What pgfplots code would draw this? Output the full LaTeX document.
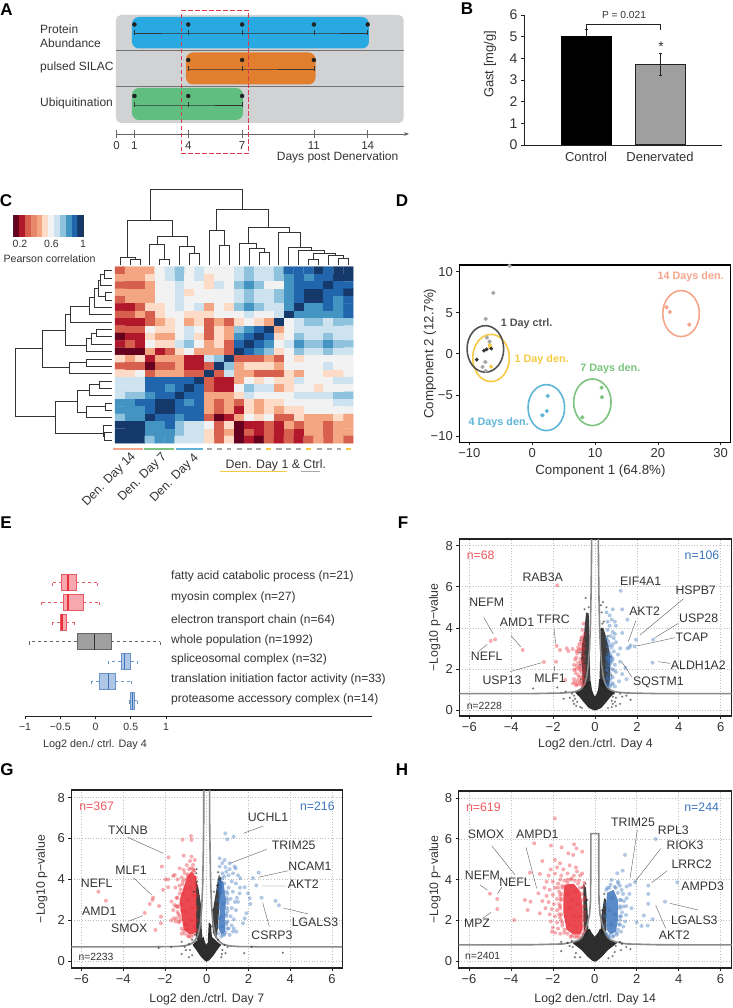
\documentclass[border=0pt]{standalone}
\usepackage{fontspec}
\setmainfont{Liberation Sans}
\usepackage{pgfplots}
\pgfplotsset{compat=1.18}
\usepgfplotslibrary{statistics}
\usetikzlibrary{arrows.meta}

\newcommand\fs[1]{\fontsize{#1}{#1}\selectfont}

\definecolor{tx}{HTML}{333333}
\definecolor{panelgray}{HTML}{D1D2D4}
\definecolor{abBlue}{HTML}{29A9E1}
\definecolor{abOrange}{HTML}{E27F2E}
\definecolor{abGreen}{HTML}{60BE80}
\definecolor{boxRed}{HTML}{E13A4C}
\definecolor{stripSalmon}{HTML}{F4A58A}
\definecolor{stripGreen}{HTML}{7CC47F}
\definecolor{stripBlue}{HTML}{5FB5D8}
\definecolor{stripYellow}{HTML}{F6C945}
\definecolor{stripGray}{HTML}{A8A8A8}
\definecolor{vr}{HTML}{E8303A}
\definecolor{vb}{HTML}{3D75BD}
\definecolor{vk}{HTML}{222222}
\definecolor{thrc}{HTML}{8A8A8A}
\definecolor{rdD}{HTML}{E85A66}
\definecolor{rdL}{HTML}{F7A8AE}
\definecolor{blD}{HTML}{6A93CC}
\definecolor{blL}{HTML}{AFC6E5}

\pgfplotsset{
  colormap={rdbu}{rgb255=(103,0,31) rgb255=(178,24,43) rgb255=(214,96,77) rgb255=(232,136,106)
    rgb255=(244,165,130) rgb255=(253,219,199) rgb255=(242,242,242) rgb255=(205,228,240)
    rgb255=(143,195,221) rgb255=(67,147,195) rgb255=(33,102,172) rgb255=(21,57,107)},
  hidden/.style={scale only axis, anchor=south west, hide axis, clip=false, unbounded coords=jump},
  rd/.style={only marks, mark=*, mark size=2pt, mark options={draw opacity=0, fill=vr, fill opacity=.4}},
  bl/.style={only marks, mark=*, mark size=2pt, mark options={draw opacity=0, fill=vb, fill opacity=.4}},
  bk/.style={only marks, mark=*, mark size=1.2pt, mark options={draw opacity=0, fill=vk, fill opacity=.6}},
  vol/.style={scale only axis, anchor=south west,
    xtick={-6,-4,-2,0,2,4,6}, xticklabels={−6,−4,−2,0,2,4,6},
    ytick={0,2,4,6,8}, yticklabels={0,2,4,6,8},
    xtick pos=lower, ytick pos=left, tick align=outside, major tick length=3pt,
    grid=major, grid style={dash pattern=on .7pt off 2pt, color=gray!50, line width=.5pt},
    axis line style={line width=1.1pt, color=vk}, tick style={color=vk, line width=.6pt, solid},
    tick label style={font=\fs{13}, text=tx},
    xlabel style={font=\fs{12.3}, text=tx, at={(axis description cs:.5,-.158)}, anchor=center},
    ylabel style={font=\fs{12.3}, text=tx, at={(axis description cs:-.09,.5)}, anchor=center},
    ylabel={−Log10 p−value}},
  thr/.style={color=thrc, line width=1.6pt, no marks},
  bx/.style n args={3}{boxplot/every box/.style={draw=#1, fill=#2, line width=.6pt},
    boxplot/every whisker/.style={draw=#1, dash pattern=on 3pt off 3pt, line width=.6pt},
    boxplot/every median/.style={draw=#3, line width=1.4pt},
    boxplot/whisker extend=.3},
}

\begin{document}
\begin{tikzpicture}
\path[use as bounding box] (0pt,0pt) rectangle (732pt,-1008pt);

% A: sampling design, x in days, y in px from the top
\begin{axis}[scale only axis, anchor=south west, at={(116.5pt,-134pt)}, width=292.5pt, height=129pt,
  xmin=0, xmax=16.3, ymin=-134, ymax=-5, clip=false,
  axis x line=bottom, axis y line=none, axis line style={-{Stealth[length=5pt]}, color=gray!80!black, line width=.7pt},
  xtick={0,1,4,7,11,14}, xticklabels={0,1,4,7,11,14}, tick align=center, major tick length=8pt,
  tick style={color=gray!80!black, line width=.7pt},
  tick label style={font=\fs{11.5}, text=tx}]
\addplot[fill=panelgray, draw=none, rounded corners=5pt] coordinates {(-.03,-15)(16,-15)(16,-123)(-.03,-123)} -- cycle;
\addplot[color=gray!90!black, line width=.7pt] coordinates {(-.03,-50.5)(16,-50.5)};
\addplot[color=gray!90!black, line width=.7pt] coordinates {(-.03,-86.5)(16,-86.5)};
\addplot[fill=abBlue, draw=none, rounded corners=7pt] coordinates {(.86,-17)(14.07,-17)(14.07,-48.5)(.86,-48.5)} -- cycle;
\addplot[fill=abOrange, draw=none, rounded corners=7pt] coordinates {(3.87,-52.5)(11.09,-52.5)(11.09,-84.5)(3.87,-84.5)} -- cycle;
\addplot[fill=abGreen, draw=none, rounded corners=7pt] coordinates {(.86,-88)(7.05,-88)(7.05,-120)(.86,-120)} -- cycle;
\addplot[mark=|, mark size=2.5pt, color=tx, line width=.7pt] coordinates {(1,-33)(4,-33)(7,-33)(11,-33)(14,-33)};
\addplot[mark=|, mark size=2.5pt, color=tx, line width=.7pt] coordinates {(4,-69)(7,-69)(11,-69)};
\addplot[mark=|, mark size=2.5pt, color=tx, line width=.7pt] coordinates {(1,-105)(4,-105)(7,-105)};
\addplot[only marks, mark=*, mark size=2pt, color=vk] coordinates {(1,-24.5)(4,-24.5)(7,-24.5)(11,-24.5)(14,-24.5)(4,-60)(7,-60)(11,-60)(1,-96)(4,-96)(7,-96)};
\addplot[color=boxRed, line width=1pt, dash pattern=on 4.5pt off 2.5pt] coordinates {(3.6,-10.5)(7.35,-10.5)(7.35,-153.5)(3.6,-153.5)} -- cycle;
\end{axis}

% B: bars
\begin{axis}[scale only axis, anchor=south west, at={(524pt,-145pt)}, width=198pt, height=130pt,
  xmin=-.838, xmax=1.838, ymin=0, ymax=6, clip=false,
  axis x line=bottom, axis y line=left, axis line style={-, color=vk, line width=.8pt},
  xtick={0,1}, xticklabels={Control,Denervated}, x tick style={draw=none},
  ytick={0,1,2,3,4,5,6}, yticklabels={0,1,2,3,4,5,6}, tick align=outside, major tick length=3pt,
  y tick style={color=vk, line width=.6pt},
  ylabel={Gast [mg/g]}, ylabel style={font=\fs{13}, text=tx, at={(axis description cs:-.172,.62)}, anchor=center},
  x tick label style={font=\fs{13}, text=tx, yshift=-1pt}, y tick label style={font=\fs{14}, text=tx}]
\addplot[ybar, bar width=50pt, fill=black, draw=black, line width=1pt,
  error bars/.cd, y dir=plus, y explicit, error bar style={color=vk, line width=1pt}, error mark options={rotate=90, mark size=1.5pt}]
  coordinates {(0,5) +- (0,.34)};
\addplot[ybar, bar width=50pt, fill=gray!75, draw=vk, line width=1pt,
  error bars/.cd, y dir=both, y explicit, error bar style={color=vk, line width=1pt}, error mark options={rotate=90, mark size=1.5pt}]
  coordinates {(1,3.72) +- (0,.5)};
\addplot[color=vk, line width=.9pt] coordinates {(0,5.3)(0,5.55)(1,5.55)(1,5.3)};
\end{axis}

% C: colour scale
\begin{axis}[scale only axis, anchor=south west, at={(13.5pt,-236.7pt)}, width=70pt, height=21pt,
  xmin=.117, xmax=1.006, ymin=-.5, ymax=1.5, colormap name=rdbu, point meta min=0, point meta max=11,
  axis line style={color=tx, line width=.6pt},
  xtick={.2,.6,1}, xticklabels={0.2,0.6,1}, ytick=\empty, xtick pos=lower, tick align=inside, major tick length=2pt,
  tick label style={font=\fs{10.5}, text=tx}]
\addplot[matrix plot*, mesh/cols=12, point meta=explicit] coordinates {
 (.154,0)[0] (.228,0)[1] (.302,0)[2] (.376,0)[3] (.450,0)[4] (.524,0)[5] (.598,0)[6] (.672,0)[7] (.746,0)[8] (.820,0)[9] (.894,0)[10] (.969,0)[11]
 (.154,1)[0] (.228,1)[1] (.302,1)[2] (.376,1)[3] (.450,1)[4] (.524,1)[5] (.598,1)[6] (.672,1)[7] (.746,1)[8] (.820,1)[9] (.894,1)[10] (.969,1)[11]};
\end{axis}

% C: heatmap, rows from the top
\begin{axis}[hidden, at={(115pt,-443.3pt)}, width=238.3pt, height=176.6pt,
  xmin=-.5, xmax=23.5, ymin=-23.5, ymax=.5, colormap name=rdbu, point meta min=0, point meta max=11]
\addplot[matrix plot*, mesh/cols=24, point meta=explicit, draw=mapped color, line width=.1pt]
 table[row sep=\\, header=false, x expr={\coordindex-24*floor((\coordindex+.5)/24)}, y expr={-floor((\coordindex+.5)/24)}, meta index=0] {
2\\4\\4\\4\\6\\7\\8\\6\\7\\6\\6\\6\\7\\8\\7\\7\\8\\10\\10\\10\\11\\10\\11\\11\\
4\\4\\4\\5\\6\\7\\8\\6\\7\\5\\6\\6\\7\\8\\7\\7\\8\\9\\10\\9\\10\\10\\11\\11\\
2\\2\\2\\4\\6\\6\\7\\6\\6\\5\\7\\6\\8\\9\\8\\6\\6\\9\\10\\10\\10\\11\\10\\10\\
4\\4\\4\\4\\6\\6\\7\\5\\6\\6\\6\\6\\7\\8\\7\\7\\8\\9\\10\\11\\11\\10\\10\\11\\
2\\4\\4\\4\\6\\6\\7\\6\\6\\6\\6\\6\\7\\8\\7\\7\\8\\9\\10\\11\\11\\10\\9\\10\\
1\\1\\2\\5\\5\\6\\7\\6\\7\\4\\6\\5\\8\\9\\8\\7\\7\\9\\11\\9\\9\\10\\9\\10\\
2\\2\\4\\2\\5\\6\\6\\5\\5\\5\\6\\6\\6\\7\\6\\6\\7\\11\\9\\9\\9\\9\\9\\10\\
1\\1\\1\\2\\4\\5\\6\\4\\5\\2\\4\\2\\5\\6\\5\\4\\11\\6\\7\\8\\8\\7\\8\\8\\
2\\2\\2\\6\\5\\5\\6\\7\\6\\2\\5\\4\\8\\9\\10\\11\\4\\6\\7\\7\\7\\7\\7\\7\\
0\\1\\1\\5\\4\\4\\6\\7\\5\\2\\5\\4\\9\\10\\11\\10\\5\\6\\8\\7\\7\\8\\7\\7\\
1\\2\\1\\6\\5\\5\\7\\8\\6\\4\\5\\2\\10\\11\\10\\9\\6\\7\\9\\8\\8\\9\\8\\8\\
0\\0\\0\\4\\1\\2\\5\\6\\4\\4\\4\\2\\11\\10\\9\\8\\5\\6\\8\\7\\7\\8\\7\\7\\
5\\4\\5\\1\\4\\4\\4\\1\\1\\7\\8\\11\\2\\2\\2\\4\\2\\6\\5\\6\\6\\6\\6\\6\\
2\\2\\2\\0\\2\\2\\4\\1\\1\\2\\11\\8\\4\\5\\5\\5\\4\\6\\6\\6\\6\\7\\6\\6\\
5\\5\\6\\2\\4\\4\\4\\2\\2\\11\\2\\7\\4\\4\\2\\2\\2\\5\\4\\6\\6\\5\\5\\6\\
7\\7\\7\\10\\10\\10\\10\\10\\11\\2\\1\\1\\4\\6\\5\\6\\5\\5\\7\\6\\6\\6\\7\\7\\
7\\7\\7\\10\\10\\9\\10\\11\\10\\2\\1\\1\\6\\8\\7\\7\\4\\5\\6\\6\\5\\6\\6\\6\\
7\\8\\8\\9\\10\\10\\11\\10\\10\\4\\4\\4\\5\\7\\6\\6\\6\\6\\7\\7\\7\\7\\8\\8\\
9\\9\\10\\10\\11\\11\\10\\9\\10\\4\\2\\4\\2\\5\\4\\5\\5\\6\\6\\6\\6\\6\\7\\7\\
9\\9\\9\\10\\11\\11\\10\\10\\10\\4\\2\\4\\1\\5\\4\\5\\4\\5\\5\\6\\6\\6\\6\\6\\
8\\9\\9\\11\\10\\10\\9\\10\\10\\2\\0\\1\\4\\6\\5\\6\\2\\2\\5\\4\\4\\4\\5\\4\\
11\\11\\11\\9\\9\\10\\8\\7\\7\\6\\2\\5\\0\\1\\1\\2\\1\\4\\2\\4\\4\\2\\4\\4\\
11\\11\\11\\9\\9\\9\\8\\7\\7\\5\\2\\4\\0\\2\\1\\2\\1\\2\\1\\4\\4\\2\\4\\4\\
11\\11\\11\\8\\9\\9\\7\\7\\7\\5\\2\\5\\0\\1\\0\\2\\1\\2\\1\\2\\4\\2\\4\\2\\
};
\end{axis}

% C: dendrograms and group strips, units of 1/3 px
\begin{axis}[hidden, at={(0pt,-510pt)}, width=370pt, height=340pt, xmin=0, xmax=1110, ymin=-1020, ymax=0]
\addplot[color=tx, line width=.9pt] coordinates {
(390,-285)(390,-267)(420,-267)(420,-285)(0,nan)
(360,-285)(360,-263)(405,-263)(405,-267)(0,nan)
(479,-285)(479,-267)(509,-267)(509,-285)(0,nan)
(449.5,-285)(449.5,-222)(494,-222)(494,-267)(0,nan)
(568.5,-285)(568.5,-250)(598,-250)(598,-285)(0,nan)
(539,-285)(539,-230)(583,-230)(583,-250)(0,nan)
(472,-222)(472,-200)(561,-200)(561,-230)(0,nan)
(382,-263)(382,-150)(517,-150)(517,-200)(0,nan)
(658,-285)(658,-225)(688,-225)(688,-285)(0,nan)
(628,-285)(628,-182)(673,-182)(673,-225)(0,nan)
(777,-285)(777,-248)(807,-248)(807,-285)(0,nan)
(747,-285)(747,-235)(792,-235)(792,-248)(0,nan)
(717.5,-285)(717.5,-220)(770,-220)(770,-235)(0,nan)
(926,-285)(926,-267)(956,-267)(956,-285)(0,nan)
(1015,-285)(1015,-265)(1045,-265)(1045,-285)(0,nan)
(985,-285)(985,-257)(1030,-257)(1030,-265)(0,nan)
(941,-267)(941,-250)(1007,-250)(1007,-257)(0,nan)
(896,-285)(896,-242)(974,-242)(974,-250)(0,nan)
(866,-285)(866,-232)(935,-232)(935,-242)(0,nan)
(836.5,-285)(836.5,-187)(900,-187)(900,-232)(0,nan)
(744,-220)(744,-172)(868,-172)(868,-187)(0,nan)
(650,-182)(650,-117)(806,-117)(806,-172)(0,nan)
(450,-150)(450,-57)(728,-57)(728,-117)
};
\addplot[color=tx, line width=.9pt] coordinates {
(335,-302)(313,-302)(313,-324)(335,-324)(0,nan)
(313,-313)(300,-313)(300,-346)(335,-346)(0,nan)
(335,-368)(315,-368)(315,-390)(335,-390)(0,nan)
(300,-330)(295,-330)(295,-379)(315,-379)(0,nan)
(295,-355)(283,-355)(283,-412)(335,-412)(0,nan)
(283,-383)(268,-383)(268,-434)(335,-434)(0,nan)
(268,-408)(212,-408)(212,-456)(335,-456)(0,nan)
(335,-478)(290,-478)(290,-500)(335,-500)(0,nan)
(290,-489)(275,-489)(275,-522)(335,-522)(0,nan)
(275,-505)(258,-505)(258,-544)(335,-544)(0,nan)
(212,-432)(195,-432)(195,-525)(258,-525)(0,nan)
(335,-567)(260,-567)(260,-589)(335,-589)(0,nan)
(260,-578)(207,-578)(207,-611)(335,-611)(0,nan)
(195,-480)(126,-480)(126,-592)(207,-592)(0,nan)
(335,-633)(297,-633)(297,-655)(335,-655)(0,nan)
(297,-644)(268,-644)(268,-677)(335,-677)(0,nan)
(335,-699)(315,-699)(315,-721)(335,-721)(0,nan)
(315,-710)(260,-710)(260,-743)(335,-743)(0,nan)
(268,-660)(232,-660)(232,-726)(260,-726)(0,nan)
(335,-787)(313,-787)(313,-810)(335,-810)(0,nan)
(335,-765)(310,-765)(310,-798)(313,-798)(0,nan)
(232,-693)(167,-693)(167,-790)(310,-790)(0,nan)
(126,-535)(46,-535)(46,-740)(167,-740)
};
\addplot[color=stripSalmon, line width=2.7pt] coordinates {(340,-837)(430,-837)};
\addplot[color=stripGreen, line width=2.7pt] coordinates {(433,-837)(523,-837)};
\addplot[color=stripBlue, line width=2.7pt] coordinates {(527,-837)(610,-837)};
\addplot[color=stripGray, line width=2.7pt] coordinates {(620,-837)(637,-837)(0,nan)(650,-837)(665,-837)(0,nan)(680,-837)(693,-837)(0,nan)(710,-837)(725,-837)(0,nan)(740,-837)(755,-837)(0,nan)(768,-837)(782,-837)(0,nan)(828,-837)(845,-837)(0,nan)(858,-837)(873,-837)(0,nan)(888,-837)(903,-837)(0,nan)(950,-837)(965,-837)(0,nan)(980,-837)(995,-837)(0,nan)(1010,-837)(1023,-837)};
\addplot[color=stripYellow, line width=2.7pt] coordinates {(798,-837)(812,-837)(0,nan)(918,-837)(933,-837)(0,nan)(1038,-837)(1052,-837)};
\addplot[color=stripYellow, line width=.9pt] coordinates {(660,-905)(862,-905)};
\addplot[color=stripGray, line width=.9pt] coordinates {(903,-905)(960,-905)};
\end{axis}

% D: PCA
\begin{axis}[scale only axis, anchor=south west, at={(459.3pt,-442.3pt)}, width=271.4pt, height=177.3pt,
  xmin=-11.6, xmax=31.6, ymin=-10.77, ymax=10.8,
  xtick={-10,0,10,20,30}, xticklabels={−10,0,10,20,30}, ytick={-10,-5,0,5,10}, yticklabels={−10,−5,0,5,10},
  xtick pos=lower, ytick pos=left, tick align=outside, major tick length=3pt,
  axis line style={line width=1.1pt, color=black}, tick style={color=vk, line width=.6pt},
  tick label style={font=\fs{13}, text=tx},
  xlabel={Component 1 (64.8\%)}, ylabel={Component 2 (12.7\%)},
  xlabel style={font=\fs{13.3}, text=tx, at={(axis description cs:.52,-.165)}, anchor=center},
  ylabel style={font=\fs{13.3}, text=tx, at={(axis description cs:-.108,.5)}, anchor=center}]
\addplot[only marks, mark=*, mark size=1.9pt, color=stripSalmon] coordinates {(21.4,5.66)(21.9,5.09)(25,3.55)};
\addplot[only marks, mark=*, mark size=1.9pt, color=stripGreen] coordinates {(11.06,-4.12)(11.1,-5.29)(7.98,-7.73)};
\addplot[only marks, mark=*, mark size=1.9pt, color=stripBlue] coordinates {(2.47,-5.13)(2.31,-6.96)(1.62,-7.48)};
\addplot[only marks, mark=*, mark size=1.9pt, color=stripYellow] coordinates {(-6.76,1.08)(-6.7,.8)(-6.55,-1.56)};
\addplot[only marks, mark=*, mark size=1.9pt, color=gray!70] coordinates {(-6.18,7.4)(-7.4,4.24)(-7.2,1.97)(-6.8,1.48)(-3.6,10.7)(-7.9,-1.6)(-7.4,-2.09)(-7.45,-1)};
\addplot[only marks, mark=*, mark size=1.7pt, color=tx] coordinates {(-8.83,-.71)(-7.67,.39)(-7.24,.55)(-6.5,.63)};
\draw[color=stripSalmon, line width=1.6pt] (axis cs:23.7,4.89) ellipse [x radius=18.3pt, y radius=23pt];
\draw[color=stripGreen, line width=1.6pt] (axis cs:9.58,-5.9) ellipse [x radius=18.7pt, y radius=23.3pt];
\draw[color=stripBlue, line width=1.6pt] (axis cs:2.25,-6.55) ellipse [x radius=18.3pt, y radius=23pt];
\draw[color=stripYellow, line width=1.6pt] (axis cs:-6.55,-.51) ellipse [x radius=18.3pt, y radius=23.6pt];
\draw[color=tx!85, line width=1.6pt] (axis cs:-7.45,.59) ellipse [x radius=18.3pt, y radius=23.3pt];
\end{axis}

% E: box plots
\begin{axis}[scale only axis, anchor=south west, at={(25pt,-716.3pt)}, width=347pt, height=146.3pt,
  xmin=-1, xmax=3.92, ymin=-7.79, ymax=-.355,
  axis x line=bottom, axis y line=none, axis line style={-, color=vk, line width=1pt},
  xtick={-1,-.5,0,.5,1}, xticklabels={−1,−0.5,0,0.5,1}, tick align=outside, major tick length=3pt,
  tick style={color=vk, line width=.6pt}, tick label style={font=\fs{10.5}, text=tx}]
\addplot[bx={rdD}{rdL}{vr}, boxplot prepared={draw position=-1, lower whisker=-.615, lower quartile=-.48, median=-.39, upper quartile=-.27, upper whisker=.02, box extend=.82}] coordinates {};
\addplot[bx={rdD}{rdL}{vr}, boxplot prepared={draw position=-2, lower whisker=-.77, lower quartile=-.463, median=-.388, upper quartile=-.175, upper whisker=.057, box extend=.82}] coordinates {};
\addplot[bx={rdD}{rdL}{vr}, boxplot prepared={draw position=-3, lower whisker=-.61, lower quartile=-.506, median=-.473, upper quartile=-.416, upper whisker=-.298, box extend=.82}] coordinates {};
\addplot[bx={gray!80!black}{gray!75}{tx}, boxplot prepared={draw position=-4, lower whisker=-.945, lower quartile=-.26, median=-.014, upper quartile=.217, upper whisker=.917, box extend=.82}] coordinates {};
\addplot[bx={blD}{blL}{vb}, boxplot prepared={draw position=-5, lower whisker=.18, lower quartile=.36, median=.41, upper quartile=.5, upper whisker=.59, box extend=.82}] coordinates {};
\addplot[bx={blD}{blL}{vb}, boxplot prepared={draw position=-6, lower whisker=-.066, lower quartile=.052, median=.18, upper quartile=.279, upper whisker=.506, box extend=.82}] coordinates {};
\addplot[bx={blD}{blL}{vb}, boxplot prepared={draw position=-7, lower whisker=.473, lower quartile=.496, median=.525, upper quartile=.553, upper whisker=.586, box extend=.82}] coordinates {};
\end{axis}

% F
\begin{axis}[vol, at={(459.3pt,-716pt)}, width=272.4pt, height=177pt, xmin=-6.48, xmax=6.53, ymin=-.29, ymax=8.32,
  xlabel={Log2 den./ctrl. Day 4}]
\addplot[fill=vk, draw=none, opacity=.88] coordinates {(-.42,4.75)(-.3,4.7)(-.28,3.8)(-.24,3)(-.24,2.2)(-.22,1.4)(-.5,1.05)(-.6,1.1)(-.6,1.8)(-.66,2.5)(-.62,3.2)(-.52,3.7)(-.48,4.2)} -- cycle;
\addplot[fill=vk, draw=none, opacity=.88] coordinates {(.27,4)(.4,4)(.55,3.5)(.7,2.8)(.72,2)(.7,1.3)(.6,1.05)(.3,1.15)(.22,1.6)(.24,2.4)(.24,3.2)} -- cycle;
\addplot[fill=vk, draw=none, opacity=.95] coordinates {(0,-.02)(-.15,.03)(-.3,.1)(-.55,.4)(-.75,.65)(-.95,.85)(-.75,1)(-.55,1.2)(-.3,1.4)(-.2,1.4)(-.15,1)(-.06,.75)(0,.65)(.06,.75)(.15,1)(.2,1.5)(.3,1.5)(.55,1.2)(.75,1)(.95,.85)(.75,.65)(.55,.4)(.3,.1)(.15,.03)} -- cycle;
\addplot[bk] coordinates {(-.45,5.45)(.28,5.1)(.38,5.25)(.55,5)(.32,4.75)(.35,4.2)(.42,4.3)(.3,3.9)(-2.95,1.05)(-1.8,1.1)(-1.4,.9)(-1.1,.8)(-1,.7)(-.95,.55)(-1.05,.45)(-.8,.75)(-1.2,.6)(-1,.3)(-.9,.2)(-.7,.15)(-1.5,.55)(1.2,.3)(1,.2)(1.3,.65)(1,.6)(1.5,.7)(.9,.8)(.8,.45)(.8,.15)(1.7,.5)(.95,.4)(1.2,.8)(.85,.65)(-.7,3.4)(-.72,2.8)(-.7,2.2)(-.68,1.5)(.62,3.6)(.75,2.6)(.78,1.7)(-.62,.1)(.62,.1)(-.85,.4)(.85,.3)(-.3,5)(-.5,4.9)};
\addplot[rd] coordinates {(-1.81,6.07)(-4.77,3.44)(-4.98,3.36)(-3.45,2.92)(-1.83,3.12)(-2.44,2.34)(-1.86,2.35)(-1.42,1.46)(-1.67,2.92)(-1.35,3)(-1.07,2.97)(-.88,2.87)(-1.27,2.87)(-.55,4.2)(-.6,3.9)(-.5,3.7)(-.65,3.5)(-.55,3.4)(-.75,3.2)(-.6,3.15)(-.5,3)(-.7,2.95)(-.85,2.75)(-.6,2.7)(-.5,2.6)(-.7,2.5)(-.95,2.45)(-.55,2.4)(-.8,2.3)(-.6,2.25)(-1,2.2)(-.5,2.15)(-.7,2.1)(-.9,2)(-.55,2)(-1,1.95)(-.65,1.85)(-.5,1.75)(-.6,1.65)(-.75,1.6)(-.55,1.5)(-.65,1.4)(-.95,1.35)(-1,1.5)(-.85,1.25)(-.7,1.25)(-.6,1.2)(-.8,1.7)(-.62,3)(-.78,2.9)(-.9,2.55)(-.72,1.95)(-.85,2.15)(-.58,2.85)(-.82,1.45)(-.68,2.35)(-.52,1.9)(-.75,2.05)(-.6,1.55)(-.92,1.8)(-.66,3.3)(-.52,3.25)(-.8,3.05)(-.6,3.55)(-.9,1.2)(-1.05,1.3)(-.72,1.35)(-.5,1.3)};
\addplot[bl] coordinates {(1.23,5.8)(2.78,3.43)(1.96,3.42)(2.75,2.3)(1.3,4.9)(.85,4.9)(.55,4.75)(.7,4.6)(1.55,4.4)(.8,4.4)(.95,4.3)(.6,4.3)(.7,4.1)(1,4.1)(1.3,3.75)(.85,3.8)(.6,3.9)(.75,3.6)(.55,3.5)(.9,3.5)(.65,3.3)(1,3.3)(1.7,3.15)(1.55,3)(1.65,3.05)(1.9,3.1)(.6,3.1)(.8,3.05)(1.2,3)(.65,2.9)(.9,2.85)(.6,2.7)(.75,2.65)(1.1,2.7)(.55,2.55)(.85,2.5)(.65,2.4)(1.2,2.35)(.75,2.3)(.55,2.2)(.95,2.2)(.65,2.1)(1.45,2.05)(.8,2)(.55,1.95)(1,1.85)(.7,1.8)(1.3,1.75)(.6,1.7)(.85,1.6)(.55,1.5)(.7,1.45)(1.15,1.4)(.6,1.3)(.8,1.25)(.65,1.2)(.95,1.15)(1.5,1.5)(.7,2.6)(.6,2.35)(.7,2.2)(.6,1.95)(.75,1.55)(.7,2.45)(.78,2.55)(.65,2.55)(.72,2.35)(.82,2.4)(.6,2.5)(.7,2.75)(.62,1.55)(.9,1.95)(.58,1.25)(.72,1.15)(.85,1.3)(.6,3.4)(.7,3.15)(.85,3.2)(.95,3.7)};
\addplot[thr] coordinates {(6.53,.8)(3,.8)(1.5,.83)(1,.88)(.75,.97)(.6,1.1)(.5,1.25)(.4,1.6)(.32,2.2)(.26,3)(.22,4)(.19,5.5)(.17,7)(.16,8.32)};
\addplot[thr] coordinates {(-6.48,.8)(-3,.8)(-1.5,.83)(-1,.88)(-.75,.97)(-.6,1.1)(-.5,1.25)(-.4,1.6)(-.32,2.2)(-.26,3)(-.22,4)(-.19,5.5)(-.17,7)(-.16,8.32)};
\end{axis}

% G
\begin{axis}[vol, at={(71.3pt,-968pt)}, width=271pt, height=178pt, xmin=-6.49, xmax=6.5, ymin=-.33, ymax=8.37,
  ylabel style={at={(axis description cs:-.109,.5)}},
  xlabel={Log2 den./ctrl. Day 7}, xlabel style={at={(axis description cs:.5,-.174)}}]
\addplot[fill=vk, draw=none, opacity=.88] coordinates {(-.55,4.1)(-.4,3.6)(-.28,2.8)(-.24,1.6)(-.2,1.1)(-.38,.98)(-.52,1.1)(-.5,2.5)} -- cycle;
\addplot[fill=vk, draw=none, opacity=.88] coordinates {(.55,4.1)(.7,4.1)(.72,3.6)(.6,2.8)(.55,1.7)(.45,1.1)(.3,1.4)(.25,2.2)(.35,2.8)(.45,3.4)} -- cycle;
\addplot[fill=vk, draw=none, opacity=.95] coordinates {(0,-.02)(-.12,.05)(-.3,.25)(-.5,.55)(-.68,.8)(-.5,1)(-.3,1.05)(-.15,1.2)(-.1,1)(-.03,.8)(.05,.9)(.1,1.9)(.2,1.8)(.25,1.2)(.45,1)(.68,.8)(.5,.55)(.3,.25)(.12,.05)} -- cycle;
\addplot[fill=vr, draw=none, opacity=.88] coordinates {(-.73,4.4)(-.5,4.1)(-.5,1.4)(-.81,1.3)(-1.1,1.55)(-1.2,2.18)(-1.3,3)(-1.1,3.6)(-.95,4.1)} -- cycle;
\addplot[fill=vb, draw=none, opacity=.85] coordinates {(.55,3.95)(.8,3.9)(.92,3)(.88,2)(.9,1.45)(.7,1.3)(.57,1.6)(.62,2.4)(.58,3.2)} -- cycle;
\addplot[bk] coordinates {(-2.3,.65)(-1.7,.7)(-1.2,.95)(-1.05,.7)(-1,.55)(-1.2,.35)(-.85,.85)(-.8,.55)(-.7,.3)(-.85,.2)(.75,.55)(.9,.4)(1.8,.4)(2.15,.7)(3.65,.42)(1,.7)(.7,.2)(.85,.8)(-.45,3.9)(-.38,3.2)(-.42,2.6)(-.55,1.3)(.35,3.4)(.5,3.7)(.3,2.5)(.25,1.7)(.6,4.15)(.55,4.35)(-.62,3.4)(-.5,4.3)(-.48,4.5)(-.7,1.05)(-.58,.85)(.65,.8)(.55,1.05)(.72,.35)};
\addplot[rd] coordinates {(-5.19,3.4)(-4.83,2.96)(-1.83,5.08)(-2.15,4.63)(-1.16,5.94)(-.75,6.12)(-.73,5.93)(-1.1,5.16)(-2.57,3.11)(-2.6,3)(-2.73,2.8)(-2.28,2.7)(-2.97,2.36)(-2.46,1.53)(-2.2,1.86)(-2.19,2.18)(-1.98,4)(-1.85,4)(-1.61,4.17)(-1.85,3.62)(-2.09,3.49)(-1.69,2.92)(-1.45,2.67)(-1.58,2.1)(-1.45,2.1)(-1.29,4.54)(-1.53,4.22)(-1.1,4.46)(-.73,5.11)(-.57,4.95)(-.65,4.71)(-1.3,3.3)(-1.5,3.6)(-1.15,3.9)(-1.05,4.3)(-.85,4.5)(-.6,4.45)(-1.45,3.1)(-1.6,2.5)(-1.4,2.4)(-1.25,2.8)(-1.7,2)(-1.35,1.9)(-1.25,2.05)(-1.1,1.5)(-1.2,1.35)(-.9,1.25)(-.75,1.2)(-1.3,2.2)(-1.5,1.95)(-1.15,3.3)(-1.3,3.7)(-.95,4.7)(-.8,4.9)(-.65,4.5)(-1.2,4.1)(-1.4,4)(-.9,4.15)(-1.05,3.55)(-1.35,2.65)(-1.2,2.5)(-1.05,1.85)(-.95,1.55)(-1.55,2.75)
(-.75,4.55)(-.62,4.35)(-.52,4.1)(-.5,3.7)(-.47,3.2)(-.47,2.6)(-.47,2)(-.5,1.5)(-.65,1.3)(-.85,1.2)(-1.05,1.35)(-1.2,1.6)(-1.3,1.95)(-1.35,2.3)(-1.42,2.7)(-1.4,3.1)(-1.25,3.5)(-1.15,3.75)(-1.05,4)(-.9,4.25)(-.8,3.6)(-.65,3.2)(-.9,3)(-.7,2.6)(-1,2.4)(-.75,2)(-.6,1.7)(-.95,1.8)};
\addplot[bl] coordinates {(.89,6.25)(.99,5.96)(1.29,6.09)(.62,5.03)(.86,4.95)(1.1,4.79)(1.34,4.63)(1.39,4.54)(2.49,4.33)(2.22,4.07)(2.38,3.71)(2.63,3.11)(3.3,2.95)(3.46,2.74)(1.98,3.32)(2.06,3.08)(2.09,2.8)(1.82,3.62)(1.58,3.32)(1.61,4.06)(1.26,4.3)(.94,4.38)(.62,4.63)(1.9,2.35)(1.82,2.1)(1.74,1.86)(1.42,1.45)(1.26,1.45)(1.1,1.29)(.78,1.29)(.75,4.8)(.9,4.6)(1.05,4.2)(1.2,3.9)(1.4,3.8)(1.05,3.6)(1.25,3.4)(1,3.3)(1.15,3.05)(1.35,2.9)(1.5,2.9)(1,2.85)(1.2,2.6)(1.4,2.5)(1,2.45)(1.15,2.2)(1.3,2.05)(1,1.95)(1.2,1.75)(1.05,1.6)(.9,1.4)(.95,1.8)(1.3,1.6)(.85,4.15)(.75,4.3)(1.5,4.2)(1.1,4.5)(.95,3.1)(.95,2.3)(1.6,3.6)(1.45,3.1)
(.6,3.95)(.75,4.05)(.85,3.8)(.95,3.4)(1,3)(.98,2.6)(.95,2.2)(.95,1.9)(1,1.6)(.85,1.3)(.7,1.2)(.55,1.35)(.52,1.7)(.58,2.1)(.6,2.6)(.55,3)(.55,3.5)(.7,3.4)(.8,2.8)(.7,2.2)(.75,1.7)};
\addplot[thr] coordinates {(6.5,.7)(3,.7)(1.5,.72)(1.1,.75)(.8,.82)(.62,.95)(.5,1.1)(.4,1.35)(.3,1.85)(.24,2.6)(.19,3.8)(.16,5.5)(.14,7)(.14,8.37)};
\addplot[thr] coordinates {(-6.49,.7)(-3,.7)(-1.5,.72)(-1.1,.75)(-.8,.82)(-.62,.95)(-.5,1.1)(-.4,1.35)(-.3,1.85)(-.24,2.6)(-.19,3.8)(-.16,5.5)(-.14,7)(-.14,8.37)};
\end{axis}

% H
\begin{axis}[vol, at={(458.7pt,-968pt)}, width=273pt, height=177pt, xmin=-6.49, xmax=6.53, ymin=-.33, ymax=8.34,
  ylabel style={at={(axis description cs:-.087,.5)}},
  xlabel={Log2 den./ctrl. Day 14}, xlabel style={at={(axis description cs:.5,-.175)}}]
\addplot[fill=vk, draw=none, opacity=.88] coordinates {(-.55,3.8)(-.42,3.6)(-.35,2.6)(-.3,1.5)(-.5,1.2)(-.55,2.2)} -- cycle;
\addplot[fill=vk, draw=none, opacity=.88] coordinates {(.45,3.1)(.55,3)(.55,1.5)(.3,1.3)(.28,2)} -- cycle;
\addplot[fill=vk, draw=none, opacity=.95] coordinates {(0,-.02)(-.12,.03)(-.35,.23)(-.63,.55)(-1.05,.88)(-.7,1.1)(-.4,1.5)(-.25,1.6)(-.15,1.4)(0,1.2)(.15,1.4)(.25,1.6)(.4,1.5)(.7,1.1)(1.05,.88)(.63,.55)(.35,.23)(.12,.03)} -- cycle;
\addplot[fill=vr, draw=none, opacity=.88] coordinates {(-1.45,3.75)(-1,3.8)(-.68,3.4)(-.58,2.6)(-.58,1.55)(-.72,1.3)(-1,1.3)(-1.35,1.55)(-1.5,2.4)(-1.5,3.2)} -- cycle;
\addplot[fill=vb, draw=none, opacity=.85] coordinates {(.58,3.35)(.9,3.5)(1.1,3)(1.1,2)(1,1.45)(.75,1.3)(.58,1.55)(.53,2.4)} -- cycle;
\addplot[bk] coordinates {(-1.6,.5)(-1.6,.95)(-1.3,.9)(-1.1,1)(-1.05,.7)(-.9,.4)(-.95,.2)(-1.2,.75)(1.3,.85)(1.5,.7)(1.7,.6)(1.25,.55)(1,.75)(.95,.45)(1.2,.95)(.85,.25)(-.6,3.6)(-.45,3.8)(-.5,3.3)(-.35,3)(.45,3.3)(.35,2.5)(-.8,.85)(.75,.85)(-.7,.2)(.65,.15)};
\addplot[rd] coordinates {(-5,3.31)(-4.65,3.05)(-4.65,2.56)(-3.84,2.02)(-1.9,7)(-2.89,5.78)(-2.09,5.67)(-1.58,5.58)(-.99,5.73)(-.87,5.53)(-.6,5.37)(-1.26,5.29)(-1.03,5.21)(-2.5,4.91)(-1.9,4.96)(-1.66,4.8)(-3.09,4.34)(-2.62,4.28)(-2.69,3.33)(-3.33,3)(-3.06,2.92)(-3.2,2.51)(-2.62,2.35)
(-2.1,4.5)(-1.8,4.6)(-1.5,4.5)(-1.2,4.7)(-.9,4.6)(-2.2,4.2)(-1.9,4.3)(-1.6,4.2)(-1.3,4.3)(-1,4.2)(-.7,4.2)(-2.3,3.9)(-2,3.9)(-1.75,3.8)(-1.65,4)(-.75,3.95)(-.5,3.85)(-2.4,3.6)(-2.15,3.5)(-1.9,3.6)(-1.7,3.4)(-.55,3.65)(-2.3,3.2)(-2,3.25)(-1.8,3.05)(-1.65,3.2)(-2.5,2.95)(-2.2,2.9)(-1.95,2.8)(-1.7,2.8)(-2.35,2.6)(-2.05,2.55)(-1.8,2.5)(-1.65,2.6)(-2.15,2.3)(-1.9,2.2)(-1.7,2.3)(-2.1,1.95)(-1.8,1.9)(-1.6,2)(-2,1.65)(-1.75,1.6)(-1.55,1.75)(-2.05,1.45)(-1.9,1.4)(-1.65,1.35)(-1.45,1.4)(-1.15,1.2)(-.85,1.2)(-1.3,4)(-1.1,4.05)(-.85,4.4)(-1.75,3.6)(-1.55,3.7)(-1.6,3.05)(-1.65,2.15)(-.6,4.3)(-.48,3.1)(-.5,2.2)(-.48,1.5)
(-1.55,3.6)(-1.45,3.95)(-1.3,3.85)(-1.15,4)(-.95,3.95)(-.8,3.8)(-.7,3.6)(-.6,3.3)(-.55,3)(-.52,2.7)(-.5,2.4)(-.5,2)(-.52,1.7)(-.6,1.35)(-.75,1.2)(-.95,1.2)(-1.1,1.25)(-1.3,1.35)(-1.45,1.55)(-1.55,1.9)(-1.6,2.3)(-1.65,2.7)(-1.62,3)(-1.6,3.3)(-1.3,3.3)(-1.1,3)(-.9,3.4)(-1.2,2.6)(-.8,2.8)(-1.4,2.2)(-1,2.2)(-.7,2.2)(-1.2,1.8)(-.9,1.7)};
\addplot[bl] coordinates {(2.9,5.99)(3.93,3.87)(1.44,5.21)(2.55,3.71)(2.55,3.3)(2.55,2.81)(3.35,2.92)(2.34,2.24)(2.76,2.06)(2,1.91)(2.23,1.73)(2.52,1.75)(1.92,3.87)(1.68,3.74)(1.52,3.66)(1.33,4.44)(1.07,4.31)(.8,3.98)(1.12,3.82)(1.28,3.49)(1.52,3.09)(1.36,2.68)(1.49,2.27)(1.2,2.02)(1.36,1.7)(.75,3.75)(1,3.6)(1.2,3.7)(1.35,3.3)(1.25,3)(1.4,2.95)(1.2,2.7)(1.3,2.4)(1.25,2.2)(1.2,1.8)(1.1,1.55)(1.25,1.45)(1.05,1.3)(.85,1.2)(.65,1.25)(1.45,1.95)(1.5,2.7)(1.75,2.6)(1.1,3.9)(.6,3.6)(1.65,3.3)
(.55,3.5)(.7,3.6)(.95,3.65)(1.1,3.35)(1.2,3)(1.2,2.6)(1.2,2.2)(1.15,1.8)(1.05,1.4)(.9,1.25)(.7,1.2)(.55,1.35)(.5,1.75)(.48,2.2)(.5,2.8)(.8,3.1)(.7,2.5)(.95,2.3)(.8,1.8)};
\addplot[thr] coordinates {(6.53,.8)(3,.81)(1.5,.85)(1,.95)(.75,1.05)(.6,1.2)(.45,1.5)(.35,1.85)(.25,2.3)(.2,3)(.19,4.5)(.19,6.25)(-.19,6.25)(-.19,4.5)(-.2,3)(-.25,2.3)(-.35,1.85)(-.45,1.5)(-.6,1.2)(-.75,1.05)(-1,.95)(-1.5,.85)(-3,.81)(-6.49,.8)};
\end{axis}

% text, in px from the top left
\begin{scope}[x=1pt, y=-1pt, every node/.style={inner sep=0pt, text=tx}]
\foreach \p/\xx/\yy in {A/6.5/10,B/467/9,C/6/201,D/402/201,E/6/523,F/403/523,G/7/770,H/402/770}
  \node[font=\bfseries\fs{17}, text=black] at (\xx,\yy) {\p};
\node[font=\fs{12}, anchor=west] at (40,29) {Protein};
\node[font=\fs{12}, anchor=west] at (40,43.5) {Abundance};
\node[font=\fs{12}, anchor=west] at (40,67) {pulsed SILAC};
\node[font=\fs{12}, anchor=west] at (40,103) {Ubiquitination};
\node[font=\fs{12}, anchor=east] at (398.5,157) {Days post Denervation};
\node[font=\fs{10.2}] at (624,15) {P = 0.021};
\node[font=\fs{14}] at (661,47) {*};
\node[font=\fs{10.6}] at (49.5,259) {Pearson correlation};
\node[font=\fs{12.3}, rotate=45, anchor=east] at (134,455) {Den. Day 14};
\node[font=\fs{12.3}, rotate=45, anchor=east] at (165,455) {Den. Day 7};
\node[font=\fs{12.3}, rotate=45, anchor=east] at (197,456) {Den. Day 4};
\node[font=\fs{12.3}, anchor=west] at (225.5,465) {Den. Day 1 \& Ctrl.};
\node[font=\fs{12}, anchor=west] at (171,576.5) {fatty acid catabolic process (n=21)};
\node[font=\fs{12}, anchor=west] at (171,597.5) {myosin complex (n=27)};
\node[font=\fs{12}, anchor=west] at (171,620) {electron transport chain (n=64)};
\node[font=\fs{12}, anchor=west] at (171,640) {whole population (n=1992)};
\node[font=\fs{12}, anchor=west] at (171,659.5) {spliceosomal complex (n=32)};
\node[font=\fs{12}, anchor=west] at (171,679) {translation initiation factor activity (n=33)};
\node[font=\fs{12}, anchor=west] at (171,699) {proteasome accessory complex (n=14)};
\node[font=\fs{10.8}] at (95,745) {Log2 den./ ctrl. Day 4};
\end{scope}

% D labels
\begin{scope}[shift={(380pt,-190pt)}, x=.33333pt, y=-.33333pt, every node/.style={inner sep=0pt, font=\bfseries\fs{10.8}}]
\node[text=stripSalmon] at (932,259) {14 Days den.};
\node[text=tx!85] at (440,402) {1 Day ctrl.};
\node[text=stripYellow] at (485,510) {1 Day den.};
\node[text=stripGreen] at (691,537) {7 Days den.};
\node[text=stripBlue] at (356,698) {4 Days den.};
\end{scope}

% F labels
\begin{scope}[shift={(410pt,-515pt)}, x=.33333pt, y=-.33333pt, every node/.style={inner sep=0pt, text=tx, font=\fs{12.3}}]
\node[text=vr!80] at (212,121) {n=68};
\node[text=vb] at (876,121) {n=106};
\node[font=\fs{10.4}] at (223,572) {n=2228};
\foreach \l/\xx/\yy in {RAB3A/398/187,EIF4A1/692/200,HSPB7/857/225,NEFM/230/262,AKT2/704/290,USP28/866/311,AMD1/321/322,TFRC/430/314,TCAP/846/367,NEFL/230/423,ALDH1A2/865/452,USP13/276/497,MLF1/420/491,SQSTM1/745/503}
  \node at (\xx,\yy) {\l};
\draw[color=tx!80, line width=.4pt] (221,307)--(250,357) (207,408)--(232,388) (303,362)--(332,395) (432,340)--(437,385) (300,470)--(395,443) (433,453)--(433,468) (820,252)--(690,360) (805,325)--(735,368) (795,368)--(680,393) (780,445)--(745,440) (665,485)--(635,440) (678,316)--(655,380);
\end{scope}

% G labels
\begin{scope}[shift={(0pt,-750pt)}, x=.33333pt, y=-.33333pt, every node/.style={inner sep=0pt, text=tx, font=\fs{12.3}}]
\node[text=vr!80] at (290,169) {n=367};
\node[text=vb] at (952,169) {n=216};
\node[font=\fs{10.4}] at (288,622) {n=2233};
\foreach \l/\xx/\yy in {TXLNB/384/241,UCHL1/804/203,TRIM25/881/287,NCAM1/930/349,AKT2/910/404,MLF1/393/360,NEFL/290/399,AMD1/298/484,SMOX/388/534,LGALS3/945/516,CSRP3/816/556}
  \node at (\xx,\yy) {\l};
\draw[color=tx!80, line width=.4pt] (383,262)--(490,310) (730,250)--(790,228) (690,340)--(800,298) (775,382)--(865,362) (786,408)--(860,408) (400,383)--(455,435) (385,514)--(428,497) (850,474)--(925,492) (788,458)--(808,530);
\end{scope}

% H labels
\begin{scope}[shift={(400pt,-750pt)}, x=.33333pt, y=-.33333pt, every node/.style={inner sep=0pt, text=tx, font=\fs{12.3}}]
\node[text=vr!80] at (250,173) {n=619};
\node[text=vb] at (905,173) {n=244};
\node[font=\fs{10.4}] at (248,618) {n=2401};
\foreach \l/\xx/\yy in {SMOX/258/254,AMPD1/412/254,TRIM25/699/218,RPL3/820/241,RIOK3/855/286,LRRC2/875/344,NEFM/247/377,NEFL/345/398,AMPD3/908/410,LGALS3/883/510,MPZ/231/520,AKT2/823/556}
  \node at (\xx,\yy) {\l};
\draw[color=tx!80, line width=.4pt] (275,287)--(345,375) (378,292)--(410,415) (712,240)--(690,385) (782,296)--(705,395) (802,362)--(755,398) (810,460)--(895,480) (767,466)--(797,535) (240,405)--(262,420) (305,412)--(292,432) (248,505)--(273,487);
\end{scope}
\end{tikzpicture}
\end{document}
